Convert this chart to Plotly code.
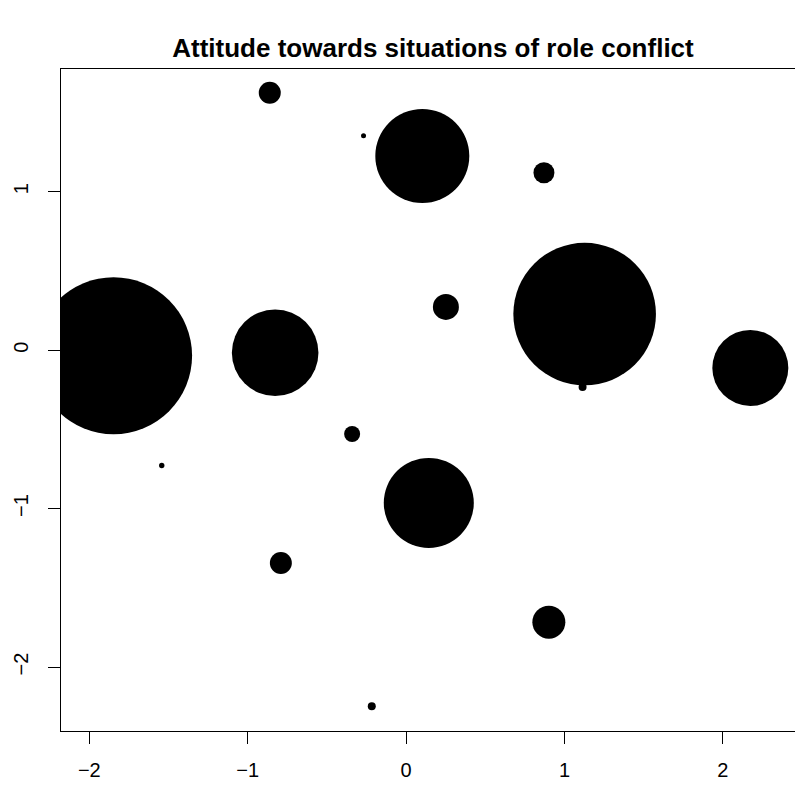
import plotly.graph_objects as go

# Bubble positions
x_vals = [-1.847, -0.827, -0.861, -0.269, 0.102, 0.870, 0.251, 1.127,
          1.114, 2.173, -0.341, -1.543, 0.143, -0.791, 0.901, -0.217]
y_vals = [-0.035, -0.016, 1.625, 1.353, 1.226, 1.120, 0.273, 0.228,
          -0.232, -0.112, -0.529, -0.728, -0.964, -1.344, -1.717, -2.247]
# Bubble radii (relative weights)
radii = [78.5, 43.3, 11.0, 2.5, 47.0, 10.5, 13.0, 71.3,
         4.0, 38.0, 8.0, 2.7, 45.0, 11.0, 16.5, 4.0]

x_ticks = [-2, -1, 0, 1, 2]
y_ticks = [-2, -1, 0, 1]

title_text = "Attitude towards situations of role conflict"

fig = go.Figure()
fig.add_trace(go.Scatter(
    x=x_vals, y=y_vals, mode="markers",
    marker=dict(size=[2 * r for r in radii], sizemode="diameter", sizeref=1,
                color="black", opacity=1, line=dict(width=0)),
    hoverinfo="skip", showlegend=False,
))

font = "Liberation Sans, Arial, Helvetica, sans-serif"
fig.update_layout(
    width=795, height=785,
    margin=dict(l=61, r=0, t=69, b=54),
    paper_bgcolor="white", plot_bgcolor="white",
    title=dict(text="<b>" + title_text + "</b>", x=(433 - 61) / 734,
               xanchor="center", xref="paper",
               y=1 - 48 / 785, yanchor="middle",
               font=dict(family=font, size=26, color="black")),
    font=dict(family=font, color="black"),
    xaxis=dict(range=[-2.179, 2.455], tickvals=x_ticks, showgrid=False,
               zeroline=False, showline=True, linecolor="black", linewidth=1,
               mirror=True, ticks="outside", ticklen=12, tickwidth=1,
               tickcolor="black", ticklabelstandoff=9,
               tickfont=dict(size=20, family=font)),
    yaxis=dict(range=[-2.404, 1.775], tickvals=y_ticks, showgrid=False,
               zeroline=False, showline=True, linecolor="black", linewidth=1,
               ticks="outside", ticklen=12, tickwidth=1, tickcolor="black",
               tickangle=-90, ticklabelstandoff=12,
               tickfont=dict(size=20, family=font)),
)

fig.write_html("out.html")
